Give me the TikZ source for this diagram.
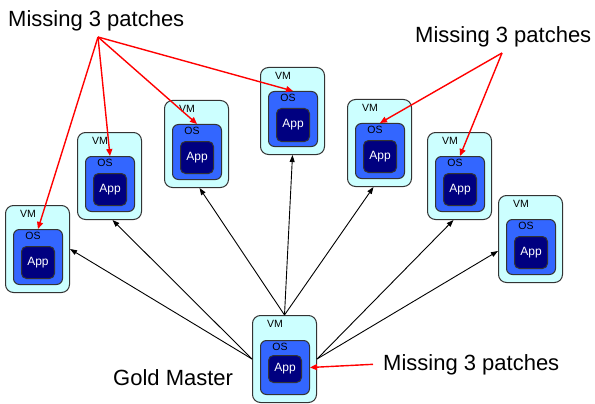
\documentclass[tikz,border=0pt]{standalone}
\usepackage{fontspec}
\setmainfont{Liberation Sans}
\usetikzlibrary{arrows.meta,calc}
\definecolor{vmfill}{HTML}{CCFFFF}
\definecolor{osfill}{HTML}{3366FF}
\definecolor{appfill}{HTML}{000080}
\definecolor{bordc}{HTML}{333333}
\tikzset{
  vmstyle/.style={draw=bordc, fill=vmfill, rounded corners=8pt, line width=1pt, inner sep=0pt, anchor=north west, minimum width=64pt, minimum height=87pt},
  osstyle/.style={draw=bordc, fill=osfill, rounded corners=6pt, line width=1pt, inner sep=0pt, anchor=north west, minimum width=49pt},
  appstyle/.style={draw=bordc, fill=appfill, rounded corners=5pt, line width=1pt, inner sep=0pt, anchor=north west, minimum width=33pt},
  smalltxt/.style={font=\fontsize{10.5}{11}\selectfont, inner sep=0pt, text=black},
  apptxt/.style={font=\fontsize{12}{13}\selectfont, inner sep=0pt, text=white},
  bigtxt/.style={font=\fontsize{22}{24}\selectfont, inner sep=0pt, anchor=base west},
  blackarrow/.style={draw=black, line width=0.9pt, -{Triangle[length=7pt,width=5pt]}},
  redarrow/.style={draw=red, line width=1.4pt, -{Triangle[length=7pt,width=6pt]}}
}
\newcommand\vmbox[7]{% name, x, y, os top, os height, app top, app height
  \node[vmstyle] (vm#1) at (#2,#3) {};
  \node[osstyle, minimum height=#5pt] (os#1) at ($(vm#1.north west)+(8,#4)$) {};
  \node[appstyle, minimum height=#7pt] (app#1) at ($(vm#1.north west)+(16,#6)$) {};
  \node[smalltxt] (vml#1) at ($(vm#1.north west)+(23,9)$) {VM};
  \node[smalltxt] (osl#1) at ($(vm#1.north west)+(28,#4+7)$) {OS};
  \node[apptxt] (appl#1) at (app#1.center) {App};
}
\begin{document}
\begin{tikzpicture}[x=1pt,y=-1pt]
\useasboundingbox (0,0) rectangle (595,404);
\vmbox{1}{5}{205}{24}{55}{41}{32}
\vmbox{2}{77}{132}{24}{55}{41}{32}
\vmbox{3}{164}{100}{24}{55}{41}{32}
\vmbox{4}{260}{67}{24}{55}{41}{33}
\vmbox{5}{347}{99}{24}{55}{41}{32}
\vmbox{6}{427}{132}{24}{55}{41}{32}
\vmbox{7}{498}{195}{24}{55}{41}{32}
\vmbox{g}{252}{315}{25}{54}{40}{27}

% labels
\node[bigtxt] (lbl1) at (8,27) {Missing 3 patches};
\node[bigtxt] (lbl2) at (415,43) {Missing 3 patches};
\node[bigtxt] (lbl3) at (383,370) {Missing 3 patches};
\node[bigtxt] (lblg) at (113,385) {Gold Master};
\coordinate (s1) at (98,37);
\coordinate (s2) at (502,53);

% black arrows from gold master
\draw[blackarrow] (vmg.west) -- (vm1.east);
\draw[blackarrow] (vmg.west) -- ([xshift=3pt]vm2.south);
\draw[blackarrow] (vmg.north) -- ([xshift=3pt]vm3.south);
\draw[blackarrow] (vmg.north) -- (vm4.south);
\draw[blackarrow] (vmg.north) -- ([xshift=-6pt]vm5.south);
\draw[blackarrow] (vmg.east) -- ([xshift=-6pt]vm6.south);
\draw[blackarrow] (vmg.east) -- ([yshift=-12pt]vm7.west);

% red arrows
\draw[redarrow] (s1) -- (os1.north);
\draw[redarrow] (s1) -- (os2.north);
\draw[redarrow] (s1) -- (os3.north);
\draw[redarrow] (s1) -- (os4.north);
\draw[redarrow] (s2) -- (os5.north);
\draw[redarrow] (s2) -- (os6.north);
\draw[redarrow] ([xshift=-10pt]lbl3.west) -- (osg.east);
\end{tikzpicture}
\end{document}
